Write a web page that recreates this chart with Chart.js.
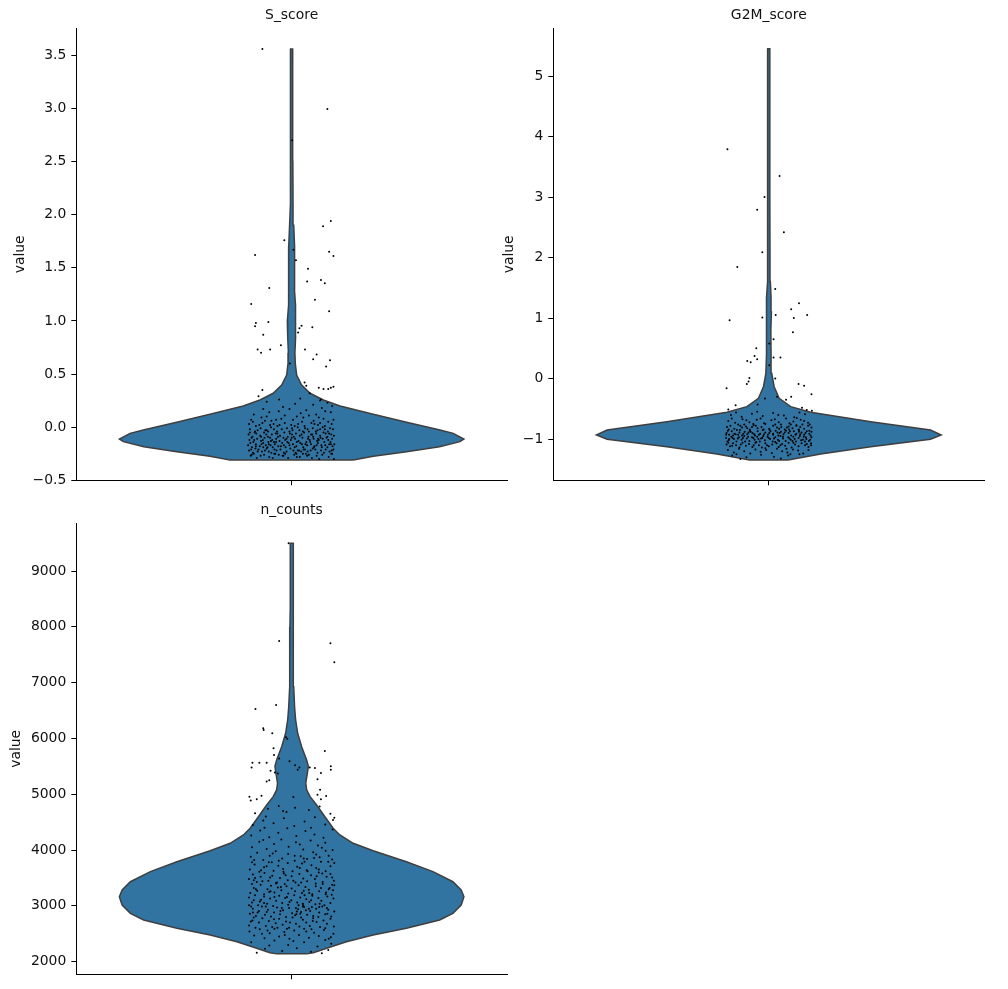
<!DOCTYPE html>
<html>
<head>
<meta charset="utf-8">
<title>violin</title>
<script src="https://cdn.jsdelivr.net/npm/chart.js@4.4.0/dist/chart.umd.min.js"></script>
<style>
  html, body { margin: 0; padding: 0; background: #fff; }
  body { width: 1008px; height: 989px; position: relative; overflow: hidden; }
  canvas { position: absolute; }
</style>
</head>
<body>
<canvas id="c1" width="520" height="495" style="left:0px;top:0px"></canvas>
<canvas id="c2" width="513" height="495" style="left:495px;top:0px"></canvas>
<canvas id="c3" width="520" height="494" style="left:0px;top:495px"></canvas>
<script>
// panel titles
const titles = ['S_score', 'G2M_score', 'n_counts'];

// ---- S_score ----
const sTicks = [-0.5, 0, 0.5, 1, 1.5, 2, 2.5, 3, 3.5];
const sTickLabels = ['\u22120.5', '0.0', '0.5', '1.0', '1.5', '2.0', '2.5', '3.0', '3.5'];
// violin outline: value and relative density (1 = widest)
const sVals = [-0.309, -0.274, -0.231, -0.184, -0.136, -0.111, -0.058, -0.026, 0.046, 0.121, 0.200, 0.256, 0.319, 0.397, 0.49, 0.60, 0.70, 0.85, 1.0, 1.15, 1.3, 1.5, 1.7, 1.9, 2.1, 2.5, 3.0, 3.56];
const sDens = [0.358, 0.474, 0.667, 0.858, 0.977, 1.0, 0.938, 0.861, 0.667, 0.474, 0.281, 0.184, 0.107, 0.058, 0.029, 0.021, 0.019, 0.023, 0.025, 0.020, 0.016, 0.017, 0.017, 0.012, 0.008, 0.007, 0.006, 0.006];
// jittered cells [offset, value]
const sPoints = [
  [-0.068,3.56],[0.083,2.995],[0.001,2.70],[0.091,1.94],[0.073,1.89],[-0.017,1.76],[-0.085,1.62],[0.087,1.65],[0.097,1.61],[0.010,1.57],[0.004,1.67],[0.038,1.49],[0.036,1.37],[0.068,1.385],[0.077,1.354],[-0.052,1.31],[0.054,1.20],[-0.094,1.16],[0.087,1.09],[-0.054,0.99],[-0.083,0.98],[-0.085,0.95],[0.023,0.955],[0.018,0.93],[0.048,0.94],[0.015,0.89],[-0.066,0.87],[-0.025,0.77],[-0.079,0.73],[-0.050,0.73],[-0.071,0.70],[0.031,0.73],[0.058,0.685],[0.050,0.64],[0.089,0.63],[0.080,0.57],[-0.004,0.60],[-0.068,0.35],[-0.077,0.29],[0.030,0.42],[0.034,0.39],[0.063,0.37],[0.074,0.36],[0.085,0.36],[0.091,0.37],[0.097,0.38],[0.042,0.32],[0.068,0.26],
  [-0.095,-0.27],[-0.081,-0.29],[-0.064,-0.26],[-0.052,-0.28],[-0.038,-0.25],[-0.021,-0.27],[-0.008,-0.29],[0.006,-0.26],[0.019,-0.28],[0.033,-0.25],[0.047,-0.29],[0.058,-0.27],[0.071,-0.26],[0.086,-0.28],[0.098,-0.30],[-0.088,-0.25],[-0.072,-0.27],[-0.044,-0.29],[-0.015,-0.25],[0.012,-0.28],[0.040,-0.26],[0.064,-0.30],[0.092,-0.25],[-0.030,-0.26],[0.026,-0.25],
  [-0.099,-0.22],[-0.090,-0.24],[-0.077,-0.21],[-0.069,-0.23],[-0.058,-0.20],[-0.047,-0.24],[-0.035,-0.22],[-0.026,-0.21],[-0.012,-0.23],[-0.003,-0.20],[0.009,-0.24],[0.017,-0.22],[0.028,-0.21],[0.037,-0.23],[0.049,-0.20],[0.060,-0.24],[0.068,-0.22],[0.079,-0.21],[0.088,-0.23],[0.097,-0.21],[-0.084,-0.20],[-0.062,-0.22],[-0.040,-0.21],[-0.018,-0.24],[0.004,-0.22],[0.022,-0.23],[0.044,-0.22],[0.055,-0.21],[0.075,-0.24],[0.093,-0.22],[-0.094,-0.21],[-0.053,-0.23],
  [-0.101,-0.17],[-0.092,-0.19],[-0.083,-0.16],[-0.074,-0.18],[-0.066,-0.15],[-0.056,-0.19],[-0.049,-0.17],[-0.039,-0.16],[-0.031,-0.18],[-0.022,-0.15],[-0.014,-0.19],[-0.005,-0.17],[0.003,-0.16],[0.011,-0.18],[0.020,-0.15],[0.027,-0.19],[0.036,-0.17],[0.045,-0.16],[0.053,-0.18],[0.061,-0.15],[0.070,-0.19],[0.078,-0.17],[0.087,-0.16],[0.095,-0.18],[-0.096,-0.15],[-0.070,-0.16],[-0.044,-0.19],[-0.018,-0.17],[0.007,-0.19],[0.032,-0.16],[0.058,-0.17],[0.083,-0.19],[0.099,-0.16],[-0.060,-0.17],
  [-0.098,-0.12],[-0.089,-0.14],[-0.080,-0.11],[-0.071,-0.13],[-0.063,-0.10],[-0.054,-0.14],[-0.045,-0.12],[-0.036,-0.11],[-0.028,-0.13],[-0.019,-0.10],[-0.010,-0.14],[-0.002,-0.12],[0.008,-0.11],[0.016,-0.13],[0.025,-0.10],[0.034,-0.14],[0.042,-0.12],[0.051,-0.11],[0.059,-0.13],[0.067,-0.10],[0.076,-0.14],[0.085,-0.12],[0.094,-0.11],[-0.093,-0.10],[-0.067,-0.12],[-0.041,-0.14],[-0.015,-0.12],[0.012,-0.14],[0.038,-0.11],[0.063,-0.12],[0.090,-0.14],[-0.050,-0.10],[0.000,-0.10],[0.072,-0.11],
  [-0.100,-0.07],[-0.091,-0.09],[-0.082,-0.06],[-0.073,-0.08],[-0.064,-0.05],[-0.055,-0.09],[-0.046,-0.07],[-0.037,-0.06],[-0.027,-0.08],[-0.017,-0.05],[-0.009,-0.09],[0.001,-0.07],[0.010,-0.06],[0.019,-0.08],[0.029,-0.05],[0.039,-0.09],[0.048,-0.07],[0.057,-0.06],[0.066,-0.08],[0.074,-0.05],[0.083,-0.09],[0.092,-0.07],[-0.086,-0.05],[-0.059,-0.07],[-0.032,-0.09],[-0.004,-0.06],[0.023,-0.07],[0.050,-0.09],[0.079,-0.06],[0.098,-0.08],
  [-0.097,-0.02],[-0.085,-0.04],[-0.072,-0.01],[-0.061,-0.03],[-0.048,-0.00],[-0.034,-0.04],[-0.023,-0.02],[-0.011,-0.01],[0.002,-0.03],[0.014,-0.00],[0.026,-0.04],[0.037,-0.02],[0.049,-0.01],[0.060,-0.03],[0.072,-0.00],[0.084,-0.04],[0.096,-0.02],[-0.079,-0.03],[-0.041,-0.02],[-0.005,-0.04],[0.031,-0.01],[0.066,-0.02],[0.089,-0.01],[-0.055,-0.04],
  [-0.099,0.03],[-0.083,0.01],[-0.068,0.04],[-0.050,0.02],[-0.033,0.01],[-0.016,0.04],[-0.001,0.02],[0.015,0.03],[0.030,0.01],[0.046,0.04],[0.061,0.02],[0.077,0.01],[0.093,0.03],[-0.075,0.02],[-0.042,0.03],[0.007,0.01],[0.053,0.03],[0.085,0.05],[-0.090,0.05],[0.024,0.05],
  [-0.094,0.07],[-0.070,0.09],[-0.047,0.06],[-0.024,0.08],[0.003,0.07],[0.027,0.09],[0.051,0.06],[0.074,0.08],[0.097,0.07],[-0.058,0.10],[0.012,0.10],[0.063,0.09],[-0.036,0.07],
  [-0.088,0.12],[-0.052,0.14],[-0.016,0.11],[0.021,0.13],[0.057,0.12],[0.091,0.14],[-0.030,0.15],[0.040,0.11],[0.078,0.15],
  [-0.066,0.17],[-0.020,0.19],[0.034,0.16],[0.070,0.18],[0.094,0.20],[-0.005,0.17],
  [-0.058,0.24],[0.008,0.22],[0.050,0.21],[-0.029,0.26],[0.083,0.23],[0.020,0.27],[0.066,0.25],
  [-0.093,-0.26],[-0.079,-0.23],[-0.066,-0.19],[-0.048,-0.13],[-0.033,-0.06],[-0.019,-0.27],[-0.007,-0.15],[0.005,-0.09],[0.018,-0.03],[0.031,-0.21],[0.043,-0.14],[0.056,-0.04],[0.069,-0.17],[0.081,-0.10],[0.094,-0.25],[-0.087,-0.12],[-0.058,-0.03],[-0.025,-0.18],[0.014,-0.22],[0.045,-0.07],[0.077,-0.02],[0.091,-0.16],[-0.071,-0.09],[-0.040,-0.25],[0.001,-0.01],[0.036,-0.27],[0.061,-0.11],[-0.097,-0.05],[-0.012,-0.11],[0.024,-0.16],[-0.053,-0.16],[0.087,-0.06],[-0.028,0.02],[0.066,0.04],[-0.062,0.06],[0.040,-0.04],[-0.083,-0.18],[0.011,-0.25],[0.052,-0.19],[-0.036,-0.14]
];

// ---- G2M_score ----
const gTicks = [-1, 0, 1, 2, 3, 4, 5];
const gTickLabels = ['\u22121', '0', '1', '2', '3', '4', '5'];
const gVals = [-1.345, -1.246, -1.125, -1.003, -0.932, -0.85, -0.712, -0.557, -0.464, -0.326, -0.134, 0.088, 0.4, 0.8, 1.1, 1.35, 1.6, 2.0, 3.0, 4.0, 5.45];
const gDens = [0.112, 0.301, 0.591, 0.938, 1.0, 0.938, 0.591, 0.243, 0.127, 0.060, 0.031, 0.017, 0.013, 0.012, 0.015, 0.013, 0.009, 0.007, 0.006, 0.006, 0.006];
const gPoints = [
  [-0.096,3.79],[0.025,3.35],[-0.010,3.00],[-0.027,2.79],[0.035,2.42],[-0.015,2.09],[-0.073,1.845],[0.015,1.48],[0.070,1.245],[0.052,1.145],[0.016,1.05],[0.089,1.05],[-0.015,1.01],[-0.091,0.963],[0.058,1.0],[0.056,0.765],[0.011,0.65],[0.001,0.58],[-0.029,0.50],[-0.033,0.374],[-0.027,0.32],[-0.050,0.29],[-0.042,0.27],[0.011,0.35],[0.027,0.35],[0.001,0.22],[-0.045,0.01],[-0.047,-0.05],[-0.051,-0.09],[0.015,0.0],[-0.098,-0.16],[0.069,-0.09],[0.082,-0.12],[0.099,-0.26],[0.052,-0.30],[0.040,-0.35],[0.019,-0.30],[-0.009,-0.33],[-0.026,-0.43],[-0.077,-0.44],[-0.094,-0.51],[0.077,-0.48],[0.088,-0.52],[0.100,-0.53],
  [-0.085,-1.27],[-0.052,-1.30],[-0.018,-1.26],[0.012,-1.29],[0.045,-1.27],[0.071,-1.25],[-0.066,-1.33],[0.028,-1.32],
  [-0.095,-1.18],[-0.081,-1.22],[-0.069,-1.16],[-0.057,-1.20],[-0.043,-1.24],[-0.031,-1.17],[-0.019,-1.21],[-0.006,-1.18],[0.007,-1.23],[0.019,-1.16],[0.031,-1.20],[0.043,-1.22],[0.056,-1.17],[0.068,-1.19],[0.080,-1.24],[0.092,-1.18],[-0.075,-1.25],[0.050,-1.25],
  [-0.098,-1.09],[-0.090,-1.12],[-0.083,-1.07],[-0.076,-1.10],[-0.068,-1.14],[-0.061,-1.06],[-0.053,-1.11],[-0.046,-1.08],[-0.038,-1.13],[-0.031,-1.06],[-0.023,-1.10],[-0.016,-1.14],[-0.008,-1.07],[0.000,-1.12],[0.008,-1.09],[0.015,-1.05],[0.023,-1.13],[0.031,-1.08],[0.038,-1.11],[0.046,-1.06],[0.053,-1.14],[0.061,-1.09],[0.069,-1.12],[0.076,-1.07],[0.084,-1.10],[0.092,-1.13],[0.098,-1.07],[-0.094,-1.06],[-0.065,-1.09],[-0.035,-1.10],[-0.004,-1.10],[0.027,-1.10],[0.057,-1.06],[0.088,-1.08],
  [-0.099,-0.98],[-0.093,-1.02],[-0.087,-0.96],[-0.081,-1.00],[-0.075,-1.04],[-0.069,-0.97],[-0.063,-1.01],[-0.057,-0.95],[-0.051,-0.99],[-0.045,-1.03],[-0.039,-0.97],[-0.033,-1.01],[-0.027,-0.96],[-0.021,-1.04],[-0.015,-0.98],[-0.009,-1.02],[-0.003,-0.96],[0.003,-1.00],[0.009,-1.04],[0.015,-0.97],[0.021,-1.01],[0.027,-0.95],[0.033,-0.99],[0.039,-1.03],[0.045,-0.97],[0.051,-1.01],[0.057,-0.96],[0.063,-1.04],[0.069,-0.98],[0.075,-1.02],[0.081,-0.96],[0.087,-1.00],[0.093,-1.03],[0.099,-0.97],[-0.096,-1.04],[-0.072,-0.99],[-0.048,-0.96],[-0.024,-1.00],[0.000,-0.98],[0.024,-1.03],[0.048,-0.99],[0.072,-0.95],[0.096,-1.01],[-0.084,-0.98],[-0.036,-0.98],[0.012,-0.99],[0.060,-1.00],[0.084,-1.04],
  [-0.098,-0.90],[-0.092,-0.93],[-0.086,-0.87],[-0.080,-0.91],[-0.074,-0.85],[-0.068,-0.89],[-0.062,-0.94],[-0.056,-0.88],[-0.050,-0.92],[-0.044,-0.86],[-0.038,-0.90],[-0.032,-0.94],[-0.026,-0.87],[-0.020,-0.91],[-0.014,-0.85],[-0.008,-0.89],[-0.002,-0.93],[0.004,-0.87],[0.010,-0.91],[0.016,-0.86],[0.022,-0.94],[0.028,-0.88],[0.034,-0.92],[0.040,-0.86],[0.046,-0.90],[0.052,-0.94],[0.058,-0.87],[0.064,-0.91],[0.070,-0.85],[0.076,-0.89],[0.082,-0.93],[0.088,-0.87],[0.094,-0.91],[0.099,-0.88],[-0.095,-0.86],[-0.071,-0.93],[-0.047,-0.89],[-0.023,-0.93],[0.001,-0.90],[0.025,-0.90],[0.049,-0.87],[0.073,-0.92],[0.097,-0.94],[-0.059,-0.91],[-0.011,-0.92],[0.037,-0.89],[0.085,-0.90],[-0.083,-0.94],
  [-0.097,-0.80],[-0.089,-0.78],[-0.080,-0.83],[-0.071,-0.76],[-0.062,-0.81],[-0.053,-0.79],[-0.044,-0.84],[-0.035,-0.77],[-0.026,-0.82],[-0.017,-0.80],[-0.008,-0.75],[0.001,-0.83],[0.010,-0.78],[0.019,-0.81],[0.028,-0.76],[0.037,-0.84],[0.046,-0.79],[0.055,-0.82],[0.064,-0.77],[0.073,-0.80],[0.082,-0.83],[0.091,-0.78],[0.099,-0.81],[-0.093,-0.84],[-0.066,-0.78],[-0.039,-0.80],[-0.012,-0.84],[0.015,-0.76],[0.042,-0.81],[0.069,-0.84],[0.095,-0.76],[-0.057,-0.76],[0.024,-0.83],[0.078,-0.76],[-0.030,-0.78],[0.051,-0.76],
  [-0.094,-0.70],[-0.078,-0.73],[-0.061,-0.67],[-0.045,-0.72],[-0.028,-0.68],[-0.011,-0.74],[0.006,-0.69],[0.023,-0.72],[0.040,-0.66],[0.057,-0.71],[0.074,-0.68],[0.091,-0.73],[-0.086,-0.66],[-0.052,-0.69],[-0.019,-0.66],[0.014,-0.67],[0.048,-0.74],[0.082,-0.70],[-0.036,-0.75],[0.065,-0.65],
  [-0.088,-0.60],[-0.063,-0.63],[-0.039,-0.58],[-0.014,-0.62],[0.010,-0.57],[0.035,-0.61],[0.059,-0.64],[0.084,-0.59],[-0.076,-0.56],[-0.027,-0.55],[0.022,-0.60],[0.071,-0.56],
  [-0.092,-1.00],[-0.077,-0.92],[-0.060,-0.98],[-0.042,-0.88],[-0.029,-1.05],[-0.013,-0.95],[0.002,-0.85],[0.018,-1.07],[0.033,-0.96],[0.047,-0.84],[0.062,-0.93],[0.079,-1.01],[0.094,-0.86],[-0.085,-1.11],[-0.050,-0.82],[-0.018,-0.99],[0.010,-0.93],[0.041,-1.16],[0.070,-0.88],[0.098,-1.10],[-0.067,-0.85],[-0.034,-0.92],[0.029,-0.80],[0.055,-1.03],[-0.099,-0.93],[0.086,-0.97],[-0.008,-1.15],[0.020,-0.89],[-0.055,-1.04],[0.064,-0.78]
];

// ---- n_counts ----
const nTicks = [2000, 3000, 4000, 5000, 6000, 7000, 8000, 9000];
const nTickLabels = ['2000', '3000', '4000', '5000', '6000', '7000', '8000', '9000'];
const nVals = [2140, 2161, 2240, 2358, 2478, 2598, 2747, 2867, 3016, 3165, 3285, 3433, 3613, 3792, 3989, 4121, 4270, 4390, 4598, 4808, 4957, 5077, 5200, 5376, 5500, 5614, 5852, 6092, 6331, 6569, 6928, 7168, 7585, 8003, 8361, 9497];
const nDens = [0.087, 0.126, 0.203, 0.318, 0.473, 0.666, 0.859, 0.936, 0.984, 1.0, 0.984, 0.936, 0.820, 0.666, 0.473, 0.357, 0.280, 0.241, 0.193, 0.145, 0.107, 0.087, 0.082, 0.091, 0.097, 0.087, 0.058, 0.035, 0.023, 0.017, 0.012, 0.010, 0.012, 0.010, 0.008, 0.008];
const nPoints = [
  [-0.007,9497],[-0.029,7746],[0.090,7705],[0.099,7365],[-0.036,6600],[-0.084,6528],[-0.066,6182],[-0.065,6150],[-0.045,6092],[-0.013,6020],[-0.010,5990],[-0.042,5824],[0.077,5776],[-0.041,5705],[-0.029,5640],[-0.091,5566],[-0.075,5566],[-0.058,5566],[0.091,5500],[0.091,5440],[-0.005,5590],[0.008,5520],[0.018,5480],[0.014,5440],[0.042,5480],[0.054,5470],[0.068,5380],[-0.093,5480],[-0.049,5420],[-0.039,5390],[-0.032,5370],[0.060,5270],[-0.052,5250],[-0.058,5230],[-0.098,4957],[-0.070,4975],[-0.095,4890],[-0.081,4910],[0.004,4950],[0.060,4990],[0.080,4970],[0.068,4910],[0.066,5080],[0.099,4580],
  [-0.081,2160],[-0.062,2230],[-0.040,2380],[-0.022,2190],[-0.008,2300],[0.012,2240],[0.029,2350],[0.045,2180],[0.060,2270],[0.078,2390],[0.092,2320],[-0.094,2350],[0.004,2370],[0.085,2210],[-0.052,2290],[0.070,2150],
  [-0.098,2540],[-0.087,2470],[-0.074,2580],[-0.063,2420],[-0.051,2510],[-0.040,2590],[-0.029,2450],[-0.017,2530],[-0.005,2410],[0.006,2560],[0.017,2480],[0.029,2590],[0.040,2430],[0.052,2520],[0.063,2460],[0.075,2570],[0.086,2410],[0.097,2500],[-0.069,2500],[-0.011,2590],[0.046,2580],[0.091,2440],
  [-0.099,2650],[-0.091,2740],[-0.084,2610],[-0.076,2700],[-0.068,2780],[-0.060,2640],[-0.053,2730],[-0.045,2620],[-0.037,2690],[-0.029,2770],[-0.021,2660],[-0.013,2720],[-0.006,2610],[0.002,2790],[0.010,2680],[0.018,2630],[0.026,2750],[0.034,2700],[0.042,2640],[0.050,2780],[0.058,2710],[0.066,2620],[0.074,2740],[0.082,2680],[0.090,2770],[0.098,2630],[-0.088,2790],[-0.033,2610],[0.022,2790],[0.078,2600],
  [-0.097,2860],[-0.090,2950],[-0.083,2820],[-0.076,2910],[-0.069,2990],[-0.062,2840],[-0.055,2930],[-0.048,2810],[-0.041,2880],[-0.034,2970],[-0.027,2850],[-0.020,2920],[-0.013,2800],[-0.006,2960],[0.001,2870],[0.008,2830],[0.015,2940],[0.022,2890],[0.029,2980],[0.036,2840],[0.043,2910],[0.050,2820],[0.057,2950],[0.064,2880],[0.071,2990],[0.078,2850],[0.085,2930],[0.092,2810],[0.099,2900],[-0.094,2990],[-0.058,2890],[-0.023,2960],[0.012,2900],[0.047,2980],[0.082,2960],[0.033,2920],[0.010,2960],[0.020,2860],[0.040,2950],[0.026,2990],
  [-0.099,3150],[-0.092,3060],[-0.085,3190],[-0.078,3010],[-0.071,3110],[-0.064,3170],[-0.057,3040],[-0.050,3130],[-0.043,3000],[-0.036,3090],[-0.029,3180],[-0.022,3050],[-0.015,3140],[-0.008,3020],[-0.001,3100],[0.006,3190],[0.013,3060],[0.020,3150],[0.027,3010],[0.034,3120],[0.041,3070],[0.048,3180],[0.055,3030],[0.062,3140],[0.069,3090],[0.076,3010],[0.083,3170],[0.090,3050],[0.097,3130],[-0.074,3080],[-0.040,3160],[-0.005,3070],[0.030,3190],[0.065,3040],[0.093,3200],[-0.088,3100],
  [-0.096,3230],[-0.088,3320],[-0.080,3270],[-0.072,3380],[-0.064,3210],[-0.056,3300],[-0.048,3360],[-0.040,3240],[-0.032,3330],[-0.024,3280],[-0.016,3390],[-0.008,3220],[0.000,3310],[0.008,3260],[0.016,3370],[0.024,3230],[0.032,3340],[0.040,3290],[0.048,3210],[0.056,3350],[0.064,3260],[0.072,3390],[0.080,3240],[0.088,3320],[0.096,3280],[-0.092,3390],[-0.052,3250],[-0.012,3350],[0.028,3270],[0.068,3320],[0.099,3370],[-0.036,3400],
  [-0.099,3480],[-0.090,3560],[-0.081,3430],[-0.072,3520],[-0.063,3590],[-0.054,3450],[-0.045,3540],[-0.036,3410],[-0.027,3500],[-0.018,3580],[-0.009,3460],[0.000,3530],[0.009,3420],[0.018,3570],[0.027,3490],[0.036,3440],[0.045,3550],[0.054,3480],[0.063,3600],[0.072,3430],[0.081,3520],[0.090,3570],[0.098,3450],[-0.085,3500],[-0.050,3510],[-0.014,3550],[0.022,3420],[0.058,3530],[0.094,3510],[-0.068,3440],
  [-0.097,3650],[-0.086,3740],[-0.075,3610],[-0.064,3690],[-0.053,3780],[-0.042,3630],[-0.031,3720],[-0.020,3660],[-0.009,3770],[0.002,3620],[0.013,3700],[0.024,3760],[0.035,3640],[0.046,3730],[0.057,3680],[0.068,3790],[0.079,3620],[0.090,3710],[0.099,3770],[-0.092,3780],[-0.058,3710],[0.030,3790],[0.063,3650],[0.085,3790],
  [-0.095,3880],[-0.080,3950],[-0.066,3820],[-0.051,3900],[-0.037,3980],[-0.022,3850],[-0.008,3930],[0.007,3810],[0.021,3890],[0.036,3840],[0.050,3960],[0.065,3870],[0.079,3990],[0.094,3830],[-0.087,3820],[-0.030,3810],[0.028,3850],[0.057,3920],[0.086,3900],[-0.044,3940],
  [-0.092,4050],[-0.075,4150],[-0.058,4020],[-0.041,4110],[-0.024,4190],[-0.007,4060],[0.010,4140],[0.027,4010],[0.044,4170],[0.061,4080],[0.078,4130],[0.095,4000],[-0.066,4180],[0.019,4100],[0.070,4040],
  [-0.094,4260],[-0.073,4350],[-0.052,4230],[-0.031,4310],[-0.010,4390],[0.011,4250],[0.032,4340],[0.053,4280],[0.074,4220],[0.095,4370],[-0.063,4400],[0.045,4400],
  [-0.090,4450],[-0.066,4530],[-0.042,4480],[-0.018,4570],[0.006,4430],[0.030,4510],[0.054,4590],[0.078,4460],[0.096,4540],[-0.060,4600],
  [-0.085,4660],[-0.055,4740],[-0.030,4790],[-0.020,4700],[-0.012,4680],[0.008,4760],[0.040,4720],[0.065,4780],[0.090,4650],
  [-0.095,2720],[-0.079,2880],[-0.064,3050],[-0.049,3260],[-0.034,3420],[-0.019,3610],[-0.004,2700],[0.011,2850],[0.026,3040],[0.041,3230],[0.056,3400],[0.071,3580],[0.086,3300],[-0.088,3460],[-0.071,3640],[-0.056,2560],[-0.041,2760],[-0.026,2910],[-0.011,3160],[0.004,3450],[0.019,3680],[0.034,2540],[0.049,2730],[0.064,2980],[0.079,3210],[0.094,3380],[-0.099,3010],[-0.083,3300],[-0.046,3780],[0.007,3900],[0.052,3860],[-0.016,2480],[0.037,3620],[0.083,2860],[-0.060,2990],[0.016,3010],[0.062,2800],[-0.025,3340],[0.045,3100],[-0.090,2880]
];

const VIOLIN_FILL = '#3274a1';
const VIOLIN_EDGE = '#3f3f3f';
const HALF_WIDTH = 0.4;   // widest part of a violin, in category units
const FONT = { family: 'DejaVu Sans', size: 13.9 };
const TEXT = '#111';

function outline(vals, dens) {
  const right = vals.map((v, i) => ({ x: dens[i] * HALF_WIDTH, y: v }));
  const left = vals.map((v, i) => ({ x: -dens[i] * HALF_WIDTH, y: v })).reverse();
  return right.concat(left, [right[0]]);
}

function panel(id, title, vals, dens, pts, ticks, labels, yMin, yMax, box) {
  return new Chart(document.getElementById(id), {
    type: 'scatter',
    data: {
      datasets: [
        {
          data: pts.map(p => ({ x: p[0], y: p[1] })),
          pointRadius: 1, pointHoverRadius: 1,
          pointBackgroundColor: '#000', pointBorderWidth: 0
        },
        {
          data: outline(vals, dens),
          showLine: true, fill: 'shape',
          backgroundColor: VIOLIN_FILL, borderColor: VIOLIN_EDGE, borderWidth: 1.5,
          pointRadius: 0, pointHoverRadius: 0
        }
      ]
    },
    options: {
      responsive: false,
      animation: false,
      devicePixelRatio: 1,
      events: [],
      layout: { padding: { left: 0, right: box.right, top: 0, bottom: 0 } },
      plugins: { legend: { display: false }, tooltip: { enabled: false } },
      scales: {
        x: {
          type: 'linear', position: 'bottom', min: -0.5, max: 0.5,
          afterBuildTicks: s => { s.ticks = [{ value: 0 }]; },
          afterFit: s => { s.height = box.bottom; },
          ticks: { callback: () => '' },
          grid: { drawOnChartArea: false, color: '#000', tickLength: 5, lineWidth: 1 },
          border: { color: '#000', width: 1 }
        },
        top: {
          type: 'linear', position: 'top', min: -0.5, max: 0.5,
          afterBuildTicks: s => { s.ticks = []; },
          afterFit: s => { s.height = box.top; },
          ticks: { display: false },
          grid: { display: false },
          border: { display: false },
          title: { display: true, text: title, font: FONT, color: TEXT, padding: { top: 6.7, bottom: 0 } }
        },
        y: {
          type: 'linear', min: yMin, max: yMax,
          afterBuildTicks: s => { s.ticks = ticks.map(v => ({ value: v })); },
          afterFit: s => { s.width = box.left; },
          ticks: { callback: v => labels[ticks.indexOf(v)], font: FONT, color: TEXT, padding: 5, autoSkip: false },
          grid: { drawOnChartArea: false, color: '#000', tickLength: 5, lineWidth: 1 },
          border: { color: '#000', width: 1 },
          title: { display: true, text: 'value', font: FONT, color: TEXT, padding: { top: box.label, bottom: 0 } }
        }
      }
    }
  });
}

panel('c1', titles[0], sVals, sDens, sPoints, sTicks, sTickLabels, -0.5, 3.754,
  { left: 76.3, right: 13, top: 28.3, bottom: 14.7, label: 11.7 });
panel('c2', titles[1], gVals, gDens, gPoints, gTicks, gTickLabels, -1.681, 5.79,
  { left: 58.3, right: 23.7, top: 28.3, bottom: 14.7, label: 5.7 });
panel('c3', titles[2], nVals, nDens, nPoints, nTicks, nTickLabels, 1774, 9855,
  { left: 76.3, right: 13, top: 28.3, bottom: 14.7, label: 8.3 });
</script>
</body>
</html>
